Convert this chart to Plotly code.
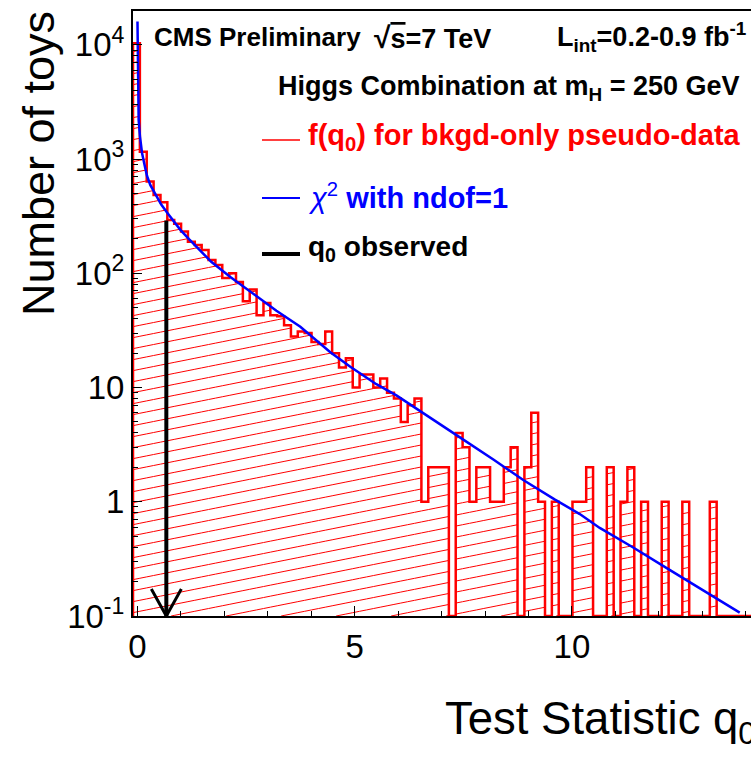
import numpy as np
import plotly.graph_objects as go

# ---------------- data ----------------
bin_low = -0.1
bin_width = 0.158
counts = [10300, 1160, 635, 485, 418, 293, 272, 232, 189, 177,
          160, 131, 118, 91, 100, 84, 57, 72, 43, 55,
          43, 42, 35, 28, 31, 30, 25, 24, 31, 20,
          15, 18, 10, 13, 13, 10, 12, 9, 8, 5,
          7, 8, 1, 2, 2, 2, 0, 4, 3, 1,
          2, 2, 1, 1, 2, 3, 0, 2, 6, 1,
          0, 1, 0, 0, 1, 1, 2, 0, 0, 2,
          0, 1, 2, 0, 1, 0, 0, 1, 0, 0,
          1, 0, 0, 0, 1, 0, 0, 0, 0, 0]

chi2_x = [0.003, 0.015, 0.03, 0.06, 0.108, 0.16, 0.223, 0.30, 0.414, 0.55,
          0.683, 0.85, 0.99, 1.2, 1.37, 1.7, 2.14, 2.6, 3.2, 3.75,
          4.44, 4.9, 5.5, 5.97, 6.7, 7.5, 8.2, 8.88, 9.6, 10.18,
          10.64, 11.4, 12.2, 13.0, 13.86]
chi2_y = [16000, 3200, 2200, 1580, 1130, 910, 710, 590, 490, 400,
          340, 282, 240, 197, 170, 126, 93, 69, 47, 34,
          20.4, 15.2, 10.7, 8.5, 5.6, 3.5, 2.33, 1.55, 1.05, 0.78,
          0.59, 0.40, 0.26, 0.17, 0.107]

q0_obs = 0.667
q0_obs_height = 290

x_range = [-0.1, 14.12]
y_range_log = [-1, 4.296]
x_tickvals = [0, 5, 10]
y_tickvals = [0.1, 1, 10, 100, 1000, 10000]
y_ticktext = ["10<sup>-1</sup>", "1", "10", "10<sup>2</sup>", "10<sup>3</sup>", "10<sup>4</sup>"]

# ---------------- geometry / style ----------------
W, H = 751, 758
ML, MR, MT, MB = 133, 0, 11, 142
PW, PH = W - ML - MR, H - MT - MB
FONT = "Liberation Sans, Arial, Helvetica, sans-serif"
RED, BLUE = "#ff0000", "#0000ff"

px_per_x = PW / (x_range[1] - x_range[0])
px_per_dec = PH / (y_range_log[1] - y_range_log[0])


def pxx(p):
    return (p - ML) / PW


def pxy(p):
    return (H - MB - p) / PH


edges = [bin_low + bin_width * i for i in range(len(counts) + 1)]
floor = 10 ** y_range_log[0]

fig = go.Figure()

# ---- hatch (shallow diagonal lines clipped to each bar) ----
slope = 0.2 * px_per_x / px_per_dec      # rise/run in (x, log10 y)
spacing = 11.0 / px_per_dec              # vertical spacing in decades
hx, hy = [], []
vb = y_range_log[0]
for i, c in enumerate(counts):
    if c <= 0:
        continue
    x0, x1 = edges[i], edges[i + 1]
    vt = np.log10(c)
    bmin = vb - slope * x1
    bmax = vt - slope * x0
    n0 = int(np.floor(bmin / spacing))
    n1 = int(np.ceil(bmax / spacing))
    for n in range(n0, n1 + 1):
        b = n * spacing
        ulo = max(x0, (vb - b) / slope)
        uhi = min(x1, (vt - b) / slope)
        if uhi - ulo > 1e-6:
            hx += [ulo, uhi, None]
            hy += [10 ** (slope * ulo + b), 10 ** (slope * uhi + b), None]
fig.add_trace(go.Scatter(x=hx, y=hy, mode="lines",
                         line=dict(color=RED, width=1), hoverinfo="skip",
                         showlegend=False))

# ---- histogram outline ----
ox = [edges[0]]
oy = [floor]
for i, c in enumerate(counts):
    v = c if c > 0 else floor
    ox += [edges[i], edges[i + 1]]
    oy += [v, v]
ox.append(edges[-1])
oy.append(floor)
fig.add_trace(go.Scatter(x=ox, y=oy, mode="lines",
                         line=dict(color=RED, width=2.5), showlegend=False))

# ---- chi2 curve ----
fig.add_trace(go.Scatter(x=chi2_x, y=chi2_y, mode="lines",
                         line=dict(color=BLUE, width=2.5), showlegend=False))

# ---- observed q0 arrow ----
fig.add_trace(go.Scatter(x=[q0_obs, q0_obs], y=[q0_obs_height, floor], mode="lines",
                         line=dict(color="black", width=4), showlegend=False))
ah_dx = 15 / px_per_x
ah_dy = 10 ** (y_range_log[0] + 27 / px_per_dec)
fig.add_trace(go.Scatter(x=[q0_obs - ah_dx, q0_obs, q0_obs + ah_dx],
                         y=[ah_dy, floor, ah_dy], mode="lines",
                         line=dict(color="black", width=3), showlegend=False))

# ---- layout ----
minor_y = [m * 10 ** d for d in range(-1, 5) for m in range(2, 10)]
fig.update_layout(
    width=W, height=H,
    margin=dict(l=ML, r=MR, t=MT, b=MB),
    paper_bgcolor="white", plot_bgcolor="white",
    showlegend=False,
    font=dict(family=FONT, color="black"),
    xaxis=dict(range=x_range, showgrid=False, zeroline=False,
               showline=True, linecolor="black", linewidth=2, mirror=True,
               ticks="inside", ticklen=10, tickwidth=1, tickcolor="black",
               tickvals=x_tickvals, ticktext=[str(v) for v in x_tickvals],
               tickfont=dict(size=33, family=FONT),
               minor=dict(ticks="inside", ticklen=5, tickwidth=1, tickcolor="black",
                          tickvals=list(range(0, 15)))),
    yaxis=dict(type="log", range=y_range_log, showgrid=False, zeroline=False,
               showline=True, linecolor="black", linewidth=2, mirror=False,
               ticks="inside", ticklen=9, tickwidth=1, tickcolor="black",
               tickvals=y_tickvals, ticktext=y_ticktext,
               tickfont=dict(size=33, family=FONT),
               minor=dict(ticks="inside", ticklen=5, tickwidth=1, tickcolor="black",
                          tickvals=minor_y)),
)

ann = []


def text(x, y, s, size, color="black", xanchor="left", angle=0):
    ann.append(dict(x=pxx(x), y=pxy(y), xref="paper", yref="paper", text=s,
                    showarrow=False, xanchor=xanchor, yanchor="middle",
                    textangle=angle,
                    font=dict(size=size, color=color, family=FONT)))


text(152, 37, "<b>CMS Preliminary</b>", 26)
text(372, 37, "<b><span style='font-size:30px'>√</span><span style='text-decoration:overline'>s</span>=7 TeV</b>", 27)
text(748, 37, "<b>L<sub>int</sub>=0.2-0.9 fb<sup>-1</sup></b>", 27, xanchor="right")
text(742, 88, "<b>Higgs Combination at m<sub>H</sub> = 250 GeV</b>", 27, xanchor="right")
text(306, 137, "<b>f(q<sub>0</sub>) for bkgd-only pseudo-data</b>", 29, RED)
text(306, 196, "<i>χ</i><sup>2</sup><b> with ndof=1</b>", 29, BLUE)
text(306, 248, "<b>q<sub>0</sub> observed</b>", 28)
text(443, 722, "Test Statistic q<sub>0</sub>", 45.5)
text(38, 164, "Number of toys", 45, angle=-90, xanchor="center")
fig.update_layout(annotations=ann)

shapes = [
    dict(type="line", xref="paper", yref="paper", x0=pxx(262), x1=pxx(300),
         y0=pxy(140), y1=pxy(140), line=dict(color=RED, width=1.5)),
    dict(type="line", xref="paper", yref="paper", x0=pxx(262), x1=pxx(300),
         y0=pxy(198), y1=pxy(198), line=dict(color=BLUE, width=2)),
    dict(type="line", xref="paper", yref="paper", x0=pxx(262), x1=pxx(300),
         y0=pxy(254), y1=pxy(254), line=dict(color="black", width=4)),
]
fig.update_layout(shapes=shapes)

fig.write_html("out.html")
